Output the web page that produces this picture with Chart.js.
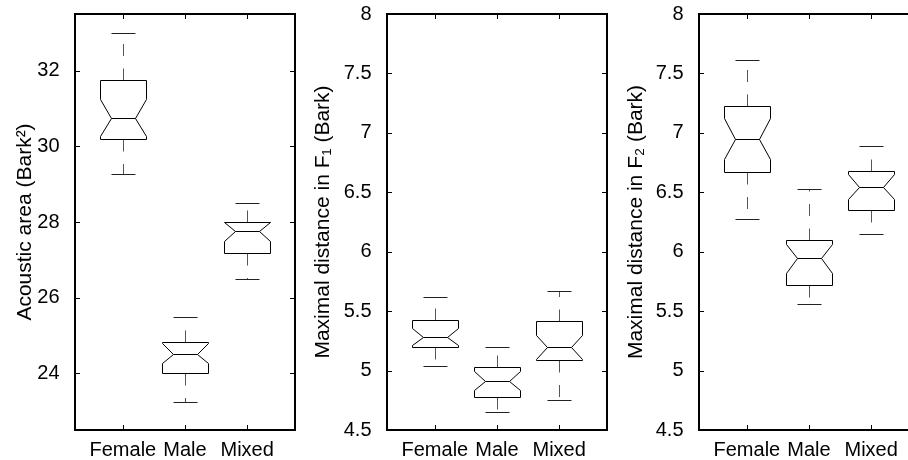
<!DOCTYPE html>
<html><head><meta charset="utf-8">
<script src="https://cdn.jsdelivr.net/npm/chart.js@4.4.0/dist/chart.umd.min.js"></script>
<style>
html,body{margin:0;padding:0;background:#fff;width:908px;height:460px;overflow:hidden;position:relative}
canvas{position:absolute;top:0}
</style></head><body>
<canvas id="c1" width="312" height="460" style="left:0px"></canvas>
<canvas id="c2" width="312" height="460" style="left:312px"></canvas>
<canvas id="c3" width="312" height="460" style="left:624px"></canvas>
<script>
const categories = ['Female', 'Male', 'Mixed'];

// Panel 1: Acoustic area (Bark^2)
const areaWhiskerLow  = [29.26, 23.25, 26.50];
const areaQ1          = [30.19, 24.00, 27.19];
const areaNotchLow    = [30.28, 24.27, 27.51];
const areaMedian      = [30.76, 24.50, 27.76];
const areaNotchHigh   = [31.25, 24.80, 28.00];
const areaQ3          = [31.75, 24.82, 28.00];
const areaWhiskerHigh = [33.00, 25.50, 28.51];
const areaTicks = [24, 26, 28, 30, 32];

// Panel 2: Maximal distance in F1 (Bark)
const f1WhiskerLow  = [5.040, 4.655, 4.753];
const f1Q1          = [5.200, 4.780, 5.093];
const f1NotchLow    = [5.215, 4.838, 5.094];
const f1Median      = [5.286, 4.916, 5.197];
const f1NotchHigh   = [5.357, 5.000, 5.300];
const f1Q3          = [5.427, 5.034, 5.418];
const f1WhiskerHigh = [5.615, 5.200, 5.673];

// Panel 3: Maximal distance in F2 (Bark)
const f2WhiskerLow  = [6.277, 5.561, 6.148];
const f2Q1          = [6.670, 5.719, 6.353];
const f2NotchLow    = [6.780, 5.825, 6.443];
const f2Median      = [6.950, 5.949, 6.546];
const f2NotchHigh   = [7.125, 6.065, 6.653];
const f2Q3          = [7.222, 6.098, 6.675];
const f2WhiskerHigh = [7.610, 6.527, 6.891];
const distTicks = [4.5, 5, 5.5, 6, 6.5, 7, 7.5, 8];

const FONT = '"Liberation Sans", Arial, Helvetica, sans-serif';
const BOX_HALF = 0.375, NOTCH_HALF = 0.19, CAP_HALF = 0.19;

function makePanel(id, st, yMin, yMax, yTicks, title, titlePad) {
  const plugin = {
    id: 'notched_' + id,
    afterDraw(chart) {
      const {ctx, chartArea: a, scales: {x, y}} = chart;
      const r = v => Math.round(v) + 0.5;
      ctx.save();
      ctx.lineWidth = 1;
      categories.forEach((c, i) => {
        const p = i + 1;
        const cx = r(x.getPixelForValue(p));
        const L = r(x.getPixelForValue(p - BOX_HALF)), R = r(x.getPixelForValue(p + BOX_HALF));
        const iL = r(x.getPixelForValue(p - NOTCH_HALF)), iR = r(x.getPixelForValue(p + NOTCH_HALF));
        const cL = r(x.getPixelForValue(p - CAP_HALF)), cR = r(x.getPixelForValue(p + CAP_HALF));
        const yLo = r(y.getPixelForValue(st.lo[i])), yHi = r(y.getPixelForValue(st.hi[i]));
        const yQ1 = r(y.getPixelForValue(st.q1[i])), yQ3 = r(y.getPixelForValue(st.q3[i]));
        const yNL = r(y.getPixelForValue(st.nlo[i])), yNH = r(y.getPixelForValue(st.nhi[i]));
        const yMed = r(y.getPixelForValue(st.med[i]));
        // whiskers (dashed)
        ctx.strokeStyle = '#555';
        ctx.setLineDash([12, 12.5]);
        ctx.beginPath(); ctx.moveTo(cx, yQ3); ctx.lineTo(cx, yHi); ctx.stroke();
        ctx.beginPath(); ctx.moveTo(cx, yQ1); ctx.lineTo(cx, yLo); ctx.stroke();
        ctx.setLineDash([]);
        // caps
        ctx.strokeStyle = '#222';
        ctx.beginPath();
        ctx.moveTo(cL, yHi); ctx.lineTo(cR, yHi);
        ctx.moveTo(cL, yLo); ctx.lineTo(cR, yLo);
        ctx.stroke();
        // notched box
        ctx.strokeStyle = '#000';
        ctx.beginPath();
        ctx.moveTo(L, yQ1); ctx.lineTo(L, yNL); ctx.lineTo(iL, yMed); ctx.lineTo(L, yNH); ctx.lineTo(L, yQ3);
        ctx.lineTo(R, yQ3); ctx.lineTo(R, yNH); ctx.lineTo(iR, yMed); ctx.lineTo(R, yNL); ctx.lineTo(R, yQ1);
        ctx.closePath();
        ctx.stroke();
        ctx.beginPath(); ctx.moveTo(iL, yMed); ctx.lineTo(iR, yMed); ctx.stroke();
      });
      // inward ticks
      ctx.strokeStyle = '#000';
      ctx.beginPath();
      yTicks.forEach(v => {
        const py = r(y.getPixelForValue(v));
        ctx.moveTo(a.left, py); ctx.lineTo(a.left + 5, py);
        ctx.moveTo(a.right, py); ctx.lineTo(a.right - 5, py);
      });
      categories.forEach((c, i) => {
        const px = r(x.getPixelForValue(i + 1));
        ctx.moveTo(px, a.bottom); ctx.lineTo(px, a.bottom - 5);
        ctx.moveTo(px, a.top); ctx.lineTo(px, a.top + 5);
      });
      ctx.stroke();
      // frame
      ctx.lineWidth = 2;
      ctx.strokeRect(a.left, a.top, a.right - a.left, a.bottom - a.top);
      ctx.restore();
    }
  };

  return new Chart(document.getElementById(id), {
    type: 'scatter',
    data: {
      datasets: [{
        label: 'median',
        data: st.med.map((v, i) => ({x: i + 1, y: v})),
        pointRadius: 0,
        showLine: false
      }]
    },
    options: {
      responsive: false,
      animation: false,
      layout: {padding: {top: 14, right: 17, left: 0, bottom: 0}},
      plugins: {legend: {display: false}, tooltip: {enabled: false}},
      scales: {
        x: {
          type: 'linear', min: 0.23, max: 3.77,
          grid: {display: false}, border: {display: false},
          afterBuildTicks: s => { s.ticks = categories.map((c, i) => ({value: i + 1})); },
          afterFit: s => { s.height = 30; s.paddingLeft = 0; s.paddingRight = 0; },
          ticks: {
            autoSkip: false, maxRotation: 0, minRotation: 0, padding: 0,
            color: '#000', font: {size: 20, family: FONT},
            callback: v => categories[Math.round(v) - 1]
          }
        },
        y: {
          type: 'linear', min: yMin, max: yMax,
          grid: {display: false}, border: {display: false},
          afterBuildTicks: s => { s.ticks = yTicks.map(v => ({value: v})); },
          afterFit: s => { s.width = 75; s.paddingTop = 0; s.paddingBottom = 0; },
          ticks: {
            padding: 7.5, color: '#000', font: {size: 20, family: FONT},
            callback: v => String(v)
          },
          title: {
            display: true, text: title, color: '#000',
            font: {size: 21, family: FONT, lineHeight: 1},
            padding: {top: titlePad, bottom: 0}
          }
        }
      }
    },
    plugins: [plugin]
  });
}

makePanel('c1', {lo: areaWhiskerLow, q1: areaQ1, nlo: areaNotchLow, med: areaMedian, nhi: areaNotchHigh, q3: areaQ3, hi: areaWhiskerHigh},
  22.5, 33.5, areaTicks, 'Acoustic area (Bark²)', 14.7);
makePanel('c2', {lo: f1WhiskerLow, q1: f1Q1, nlo: f1NotchLow, med: f1Median, nhi: f1NotchHigh, q3: f1Q3, hi: f1WhiskerHigh},
  4.5, 8, distTicks, 'Maximal distance in F₁ (Bark)', 0.3);
makePanel('c3', {lo: f2WhiskerLow, q1: f2Q1, nlo: f2NotchLow, med: f2Median, nhi: f2NotchHigh, q3: f2Q3, hi: f2WhiskerHigh},
  4.5, 8, distTicks, 'Maximal distance in F₂ (Bark)', 1.3);
</script>
</body></html>
